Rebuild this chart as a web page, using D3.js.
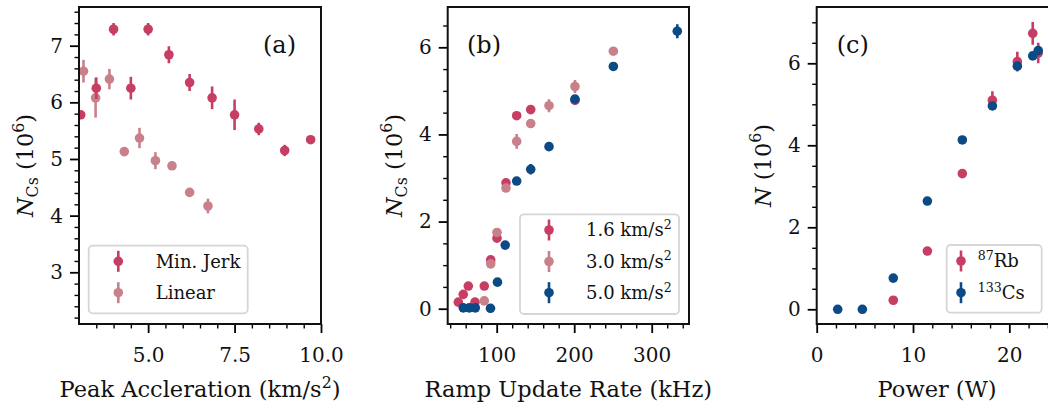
<!DOCTYPE html>
<html><head><meta charset="utf-8">
<script src="https://cdn.jsdelivr.net/npm/d3@7"></script>
<style>body{margin:0;background:#fff} svg{display:block}</style>
</head><body>
<svg id="chart" width="1048" height="409"></svg>
<script>
// ---------- DATA ----------
// Panel (a): N_Cs vs peak acceleration
const aJerkX   = [3.05, 3.5, 4.0, 4.5, 5.0, 5.6, 6.2, 6.85, 7.5, 8.2, 8.95, 9.7];
const aJerkY   = [5.78, 6.25, 7.29, 6.25, 7.29, 6.84, 6.35, 6.08, 5.78, 5.53, 5.15, 5.34];
const aJerkErr = [0.04, 0.19, 0.11, 0.2, 0.11, 0.15, 0.15, 0.2, 0.27, 0.11, 0.1, 0.03];
const aLinX    = [3.13, 3.48, 3.88, 4.31, 4.75, 5.21, 5.69, 6.2, 6.73];
const aLinY    = [6.55, 6.08, 6.41, 5.13, 5.37, 4.97, 4.88, 4.41, 4.17];
const aLinErr  = [0.2, 0.35, 0.18, 0.03, 0.18, 0.15, 0.03, 0.03, 0.13];
const aLegend  = ["Min. Jerk", "Linear"];
const aXTicks  = [5.0, 7.5, 10.0];
const aXTickLabels = ["5.0", "7.5", "10.0"];
const aYTicks  = [3, 4, 5, 6, 7];
const aYTickLabels = ["3", "4", "5", "6", "7"];

// Panel (b): N_Cs vs ramp update rate
const b16X   = [50.5, 56.9, 63.4, 72, 84, 92.3, 100.4, 112, 125.8, 143.9, 201];
const b16Y   = [0.15, 0.33, 0.52, 0.15, 0.52, 1.12, 1.62, 2.89, 4.43, 4.57, 4.78];
const b16Err = [0.03, 0.03, 0.03, 0.03, 0.03, 0.05, 0.08, 0.06, 0.05, 0.05, 0.05];
const b30X   = [84, 92.3, 100.4, 112, 125.8, 143.9, 167.5, 201, 250.5];
const b30Y   = [0.18, 1.03, 1.75, 2.77, 3.84, 4.25, 4.66, 5.10, 5.91];
const b30Err = [0.03, 0.05, 0.06, 0.06, 0.17, 0.05, 0.15, 0.15, 0.05];
const b50X   = [56.9, 64.6, 72.4, 92, 101, 111, 125.8, 143.9, 167.5, 201, 250.5, 333];
const b50Y   = [0.02, 0.02, 0.02, 0.01, 0.61, 1.46, 2.93, 3.20, 3.72, 4.81, 5.56, 6.37];
const b50Err = [0.02, 0.02, 0.02, 0.02, 0.04, 0.04, 0.06, 0.12, 0.04, 0.05, 0.05, 0.16];
const bLegend = ["1.6 km/s", "3.0 km/s", "5.0 km/s"];
const bXTicks = [100, 200, 300];
const bXTickLabels = ["100", "200", "300"];
const bYTicks = [0, 2, 4, 6];
const bYTickLabels = ["0", "2", "4", "6"];

// Panel (c): N vs power
const cRbX   = [7.95, 11.49, 15.12, 18.24, 20.83, 22.43, 23.0];
const cRbY   = [0.22, 1.42, 3.31, 5.10, 6.04, 6.73, 6.25];
const cRbErr = [0.03, 0.03, 0.05, 0.22, 0.24, 0.28, 0.25];
const cCsX   = [2.18, 4.74, 7.95, 11.49, 15.12, 18.24, 20.83, 22.43, 23.0];
const cCsY   = [0.0, 0.0, 0.76, 2.64, 4.13, 4.96, 5.93, 6.18, 6.31];
const cCsErr = [0.02, 0.02, 0.03, 0.04, 0.05, 0.05, 0.06, 0.06, 0.1];
const cLegendMass = ["87", "133"];
const cLegendName = ["Rb", "Cs"];
const cXTicks = [0, 10, 20];
const cXTickLabels = ["0", "10", "20"];
const cYTicks = [0, 2, 4, 6];
const cYTickLabels = ["0", "2", "4", "6"];

// ---------- STYLE ----------
const FONT = "'DejaVu Serif', serif";
const RED = "#c83d63", PINK = "#c8818a", BLUE = "#0b4a84";
const R = 4.8, EW = 2.6;

const svg = d3.select("#chart").style("font-family", FONT);

function range(a, b, s) { const o = []; for (let v = a; v <= b + 1e-9; v += s) o.push(+v.toFixed(6)); return o; }

function rich(sel, parts, size) {
  let shift = 0;
  parts.forEach(p => {
    const ts = sel.append("tspan").text(p.t);
    let target = 0;
    if (p.sup) { ts.attr("font-size", size * 0.7); target = -size * 0.42; }
    if (p.sub) { ts.attr("font-size", size * 0.7); target = size * 0.22; }
    if (p.it) ts.attr("font-style", "italic");
    ts.attr("dy", target - shift);
    shift = target;
  });
}

function makePanel(o) {
  const g = svg.append("g");
  const x = d3.scaleLinear().domain(o.xDomain).range([o.left, o.right]);
  const y = d3.scaleLinear().domain(o.yDomain).range([o.bottom, o.top]);
  const id = "clip" + o.name;
  g.append("clipPath").attr("id", id).append("rect")
    .attr("x", o.left).attr("y", o.top).attr("width", o.right - o.left).attr("height", o.bottom - o.top);
  const data = g.append("g").attr("clip-path", `url(#${id})`);

  g.append("g").attr("transform", `translate(0,${o.bottom})`)
    .call(d3.axisBottom(x).tickValues(o.xMinor).tickSize(4.5).tickFormat(""))
    .call(s => { s.select(".domain").remove(); s.selectAll("line").attr("stroke-width", 1.4); });
  g.append("g").attr("transform", `translate(${o.left},0)`)
    .call(d3.axisLeft(y).tickValues(o.yMinor).tickSize(4.5).tickFormat(""))
    .call(s => { s.select(".domain").remove(); s.selectAll("line").attr("stroke-width", 1.4); });
  g.append("g").attr("transform", `translate(0,${o.bottom})`)
    .call(d3.axisBottom(x).tickValues(o.xTicks).tickSize(9).tickPadding(14.5)
      .tickFormat((d, i) => o.xTickLabels[i]))
    .call(s => { s.select(".domain").remove(); s.selectAll("line").attr("stroke-width", 1.8);
      s.selectAll("text").attr("font-size", 20).attr("font-family", FONT).attr("fill", "#111"); });
  g.append("g").attr("transform", `translate(${o.left},0)`)
    .call(d3.axisLeft(y).tickValues(o.yTicks).tickSize(9).tickPadding(7)
      .tickFormat((d, i) => o.yTickLabels[i]))
    .call(s => { s.select(".domain").remove(); s.selectAll("line").attr("stroke-width", 1.8);
      s.selectAll("text").attr("font-size", 20).attr("font-family", FONT).attr("fill", "#111"); });

  const xl = g.append("text").attr("x", (o.left + Math.min(o.right, 1058)) / 2).attr("y", 397)
    .attr("text-anchor", "middle").attr("font-size", 22.5).attr("fill", "#111").style("white-space", "pre");
  rich(xl, o.xLabel, 22.5);
  const yl = g.append("text").attr("transform", `translate(${o.left - 46},${(o.top + o.bottom) / 2}) rotate(-90)`)
    .attr("text-anchor", "middle").attr("font-size", 22.5).attr("fill", "#111").style("white-space", "pre");
  rich(yl, o.yLabel, 22.5);

  g.append("text").attr("x", o.tagX).attr("y", 53).attr("text-anchor", o.tagAnchor)
    .attr("font-size", 24).attr("fill", "#111").text(o.tag);

  return { g, data, x, y, frame: () => g.append("rect").attr("x", o.left).attr("y", o.top)
      .attr("width", o.right - o.left).attr("height", o.bottom - o.top)
      .attr("fill", "none").attr("stroke", "#111").attr("stroke-width", 2) };
}

function series(p, xs, ys, es, color) {
  const d = xs.map((v, i) => ({ x: v, y: ys[i], e: es[i] }));
  const s = p.data.append("g");
  s.selectAll("line").data(d).enter().append("line")
    .attr("x1", v => p.x(v.x)).attr("x2", v => p.x(v.x))
    .attr("y1", v => p.y(v.y - v.e)).attr("y2", v => p.y(v.y + v.e))
    .attr("stroke", color).attr("stroke-width", EW);
  s.selectAll("circle").data(d).enter().append("circle")
    .attr("cx", v => p.x(v.x)).attr("cy", v => p.y(v.y)).attr("r", R).attr("fill", color);
}

function legend(box, rows, markerX, textX, entries, size) {
  const g = svg.append("g");
  g.append("rect").attr("x", box[0]).attr("y", box[1]).attr("width", box[2] - box[0]).attr("height", box[3] - box[1])
    .attr("rx", 4).attr("fill", "#fff").attr("fill-opacity", 0.85).attr("stroke", "#d6d6d6").attr("stroke-width", 1.8);
  entries.forEach((e, i) => {
    g.append("line").attr("x1", markerX).attr("x2", markerX).attr("y1", rows[i] - 10.5).attr("y2", rows[i] + 10.5)
      .attr("stroke", e.color).attr("stroke-width", EW);
    g.append("circle").attr("cx", markerX).attr("cy", rows[i]).attr("r", R).attr("fill", e.color);
    const t = g.append("text").attr("x", textX).attr("y", rows[i] + size * 0.36).attr("font-size", size)
      .attr("fill", "#111").style("white-space", "pre");
    rich(t, e.parts, size);
  });
}

// ---------- PANEL (a) ----------
const pa = makePanel({
  name: "a", left: 79, right: 321, top: 7, bottom: 324,
  xDomain: [3.0, 10.0], yDomain: [2.087, 7.683],
  xTicks: aXTicks, xTickLabels: aXTickLabels, xMinor: range(3.5, 9.5, 0.5).filter(v => !aXTicks.includes(v)),
  yTicks: aYTicks, yTickLabels: aYTickLabels, yMinor: range(2.2, 7.6, 0.2).filter(v => !aYTicks.some(t => Math.abs(t - v) < 1e-6)),
  xLabel: [{ t: "Peak Accleration (km/s" }, { t: "2", sup: true }, { t: ")" }],
  yLabel: [{ t: "N", it: true }, { t: "Cs", sub: true }, { t: " (10" }, { t: "6", sup: true }, { t: ")" }],
  tag: "(a)", tagX: 296, tagAnchor: "end"
});
series(pa, aLinX, aLinY, aLinErr, PINK);
series(pa, aJerkX, aJerkY, aJerkErr, RED);
pa.frame();
legend([88.7, 245.7, 247.7, 313.3], [261.3, 292.7], 118.3, 155.7,
  [{ color: RED, parts: [{ t: aLegend[0] }] }, { color: PINK, parts: [{ t: aLegend[1] }] }], 18);

// ---------- PANEL (b) ----------
const pb = makePanel({
  name: "b", left: 447.7, right: 689, top: 7, bottom: 324,
  xDomain: [36.8, 348.1], yDomain: [-0.351, 6.925],
  xTicks: bXTicks, xTickLabels: bXTickLabels, xMinor: range(40, 340, 20).filter(v => !bXTicks.includes(v)),
  yTicks: bYTicks, yTickLabels: bYTickLabels, yMinor: range(0, 6.5, 0.5).filter(v => !bYTicks.includes(v)),
  xLabel: [{ t: "Ramp Update Rate (kHz)" }],
  yLabel: [{ t: "N", it: true }, { t: "Cs", sub: true }, { t: " (10" }, { t: "6", sup: true }, { t: ")" }],
  tag: "(b)", tagX: 467, tagAnchor: "start"
});
series(pb, b16X, b16Y, b16Err, RED);
series(pb, b30X, b30Y, b30Err, PINK);
series(pb, b50X, b50Y, b50Err, BLUE);
pb.frame();
legend([520, 214.3, 679, 314], [230, 261.5, 292.7], 549, 586,
  [{ color: RED, parts: [{ t: bLegend[0] }, { t: "2", sup: true }] },
   { color: PINK, parts: [{ t: bLegend[1] }, { t: "2", sup: true }] },
   { color: BLUE, parts: [{ t: bLegend[2] }, { t: "2", sup: true }] }], 18);

// ---------- PANEL (c) ----------
const pc = makePanel({
  name: "c", left: 816.7, right: 1057.5, top: 7, bottom: 324,
  xDomain: [0, 25], yDomain: [-0.359, 7.373],
  xTicks: cXTicks, xTickLabels: cXTickLabels, xMinor: range(2, 24, 2).filter(v => !cXTicks.includes(v)),
  yTicks: cYTicks, yTickLabels: cYTickLabels, yMinor: range(0, 7, 0.5).filter(v => !cYTicks.includes(v)),
  xLabel: [{ t: "Power (W)" }],
  yLabel: [{ t: "N", it: true }, { t: " (10" }, { t: "6", sup: true }, { t: ")" }],
  tag: "(c)", tagX: 836.7, tagAnchor: "start"
});
series(pc, cRbX, cRbY, cRbErr, RED);
series(pc, cCsX, cCsY, cCsErr, BLUE);
pc.frame();
legend([946.7, 245, 1041.7, 312.7], [261, 292.7], 961, 977.7,
  [{ color: RED, parts: [{ t: cLegendMass[0], sup: true }, { t: cLegendName[0] }] },
   { color: BLUE, parts: [{ t: cLegendMass[1], sup: true }, { t: cLegendName[1] }] }], 18);
</script>
</body></html>
